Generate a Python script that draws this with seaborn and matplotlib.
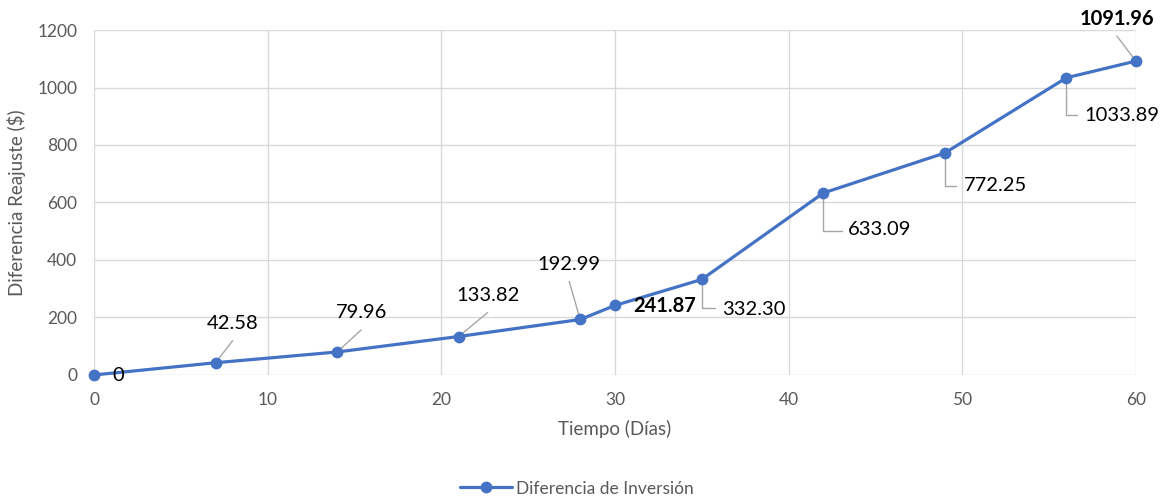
import matplotlib
matplotlib.use("Agg")
import matplotlib.pyplot as plt
import seaborn as sns
import pandas as pd
from matplotlib.lines import Line2D

# ---- data ----
dias = [0, 7, 14, 21, 28, 30, 35, 42, 49, 56, 60]
diferencia = [0, 42.58, 79.96, 133.82, 192.99, 241.87, 332.30, 633.09, 772.25, 1033.89, 1091.96]
etiquetas = ["0", "42.58", "79.96", "133.82", "192.99", "241.87", "332.30",
             "633.09", "772.25", "1033.89", "1091.96"]
serie = "Diferencia de Inversión"
x_label = "Tiempo (Días)"
y_label = "Diferencia Reajuste ($)"
x_ticks = [0, 10, 20, 30, 40, 50, 60]
y_ticks = [0, 200, 400, 600, 800, 1000, 1200]

sns.set_style("white")
plt.rcParams["font.family"] = ["Lato", "DejaVu Sans"]

df = pd.DataFrame({"Tiempo": dias, "Diferencia": diferencia, "Serie": serie})

BLUE = "#4472C4"
GRID = "#D9D9D9"
TXT = "#595959"
LEAD = "#A6A6A6"

fig = plt.figure(figsize=(11.65, 4.96), dpi=100)
ax = fig.add_axes([0.0807, 0.244, 0.975 - 0.0807, 0.9395 - 0.244])

sns.lineplot(data=df, x="Tiempo", y="Diferencia", hue="Serie", palette=[BLUE],
             marker="o", markersize=8.5, markeredgewidth=0, linewidth=2.3,
             ax=ax, legend=False, clip_on=False, zorder=5)

ax.set_xlim(0, 60)
ax.set_ylim(0, 1200)
ax.set_xticks(x_ticks)
ax.set_yticks(y_ticks)
ax.grid(True, color=GRID, linewidth=1)
ax.set_axisbelow(True)
for s in ax.spines.values():
    s.set_visible(False)
ax.tick_params(axis="both", length=0, labelsize=12.5, labelcolor=TXT, pad=12)
ax.set_xlabel(x_label, fontsize=13.5, color=TXT, labelpad=9)
ax.set_ylabel(y_label, fontsize=13.5, color=TXT, labelpad=8)

# label styling (offsets in pixels)
# 'plain': text offset (dx, dy_down); 'diag': leader end (dx, dy_up); 'elbow': corner end (dx, dy_down), text left (dx, dy_down)
styles = {
    0: ("plain", (24, 1), None, False),
    1: ("diag", (17, 22), None, False),
    2: ("diag", (24, 22), None, False),
    3: ("diag", (29, 24), None, False),
    4: ("diag", (-11, 38), None, False),
    5: ("plain", (50, 1), None, True),
    6: ("elbow", (13, 29), (20, 30), False),
    7: ("elbow", (19, 38), (25, 37), False),
    8: ("elbow", (11, 33), (19, 33), False),
    9: ("elbow", (11, 37), (18, 38), False),
    10: ("diag", (-19, 25), None, True),
}
FS = 14.5
for i, (xv, yv, lab) in enumerate(zip(dias, diferencia, etiquetas)):
    kind, off, toff, bold = styles[i]
    fw = "bold" if bold else "normal"
    if kind == "plain":
        ax.annotate(lab, xy=(xv, yv), xytext=(off[0], -off[1]), textcoords="offset pixels",
                    ha="center", va="center", fontsize=FS, fontweight=fw, color="black",
                    annotation_clip=False, zorder=6)
    elif kind == "diag":
        ax.annotate("", xy=(xv, yv), xytext=(off[0], off[1]), textcoords="offset pixels",
                    arrowprops=dict(arrowstyle="-", color=LEAD, lw=1, shrinkA=0, shrinkB=2),
                    annotation_clip=False, zorder=4)
        ax.annotate(lab, xy=(xv, yv), xytext=(off[0], off[1] + 17), textcoords="offset pixels",
                    ha="center", va="center", fontsize=FS, fontweight=fw, color="black",
                    annotation_clip=False, zorder=6)
    else:
        ax.annotate("", xy=(xv, yv), xytext=(off[0], -off[1]), textcoords="offset pixels",
                    arrowprops=dict(arrowstyle="-", color=LEAD, lw=1, shrinkA=0, shrinkB=0,
                                    connectionstyle="angle,angleA=0,angleB=90,rad=0"),
                    annotation_clip=False, zorder=4)
        ax.annotate(lab, xy=(xv, yv), xytext=(toff[0], -toff[1]), textcoords="offset pixels",
                    ha="left", va="center", fontsize=FS, fontweight=fw, color="black",
                    annotation_clip=False, zorder=6)

handle = Line2D([], [], color=BLUE, linewidth=2.3, marker="o", markersize=8.5, markeredgewidth=0)
fig.legend([handle], [serie], loc="center", bbox_to_anchor=(0.495, 0.015),
           frameon=False, fontsize=12.5, labelcolor=TXT, handlelength=3, handletextpad=0.2)

fig.savefig("out.png", dpi=100)
